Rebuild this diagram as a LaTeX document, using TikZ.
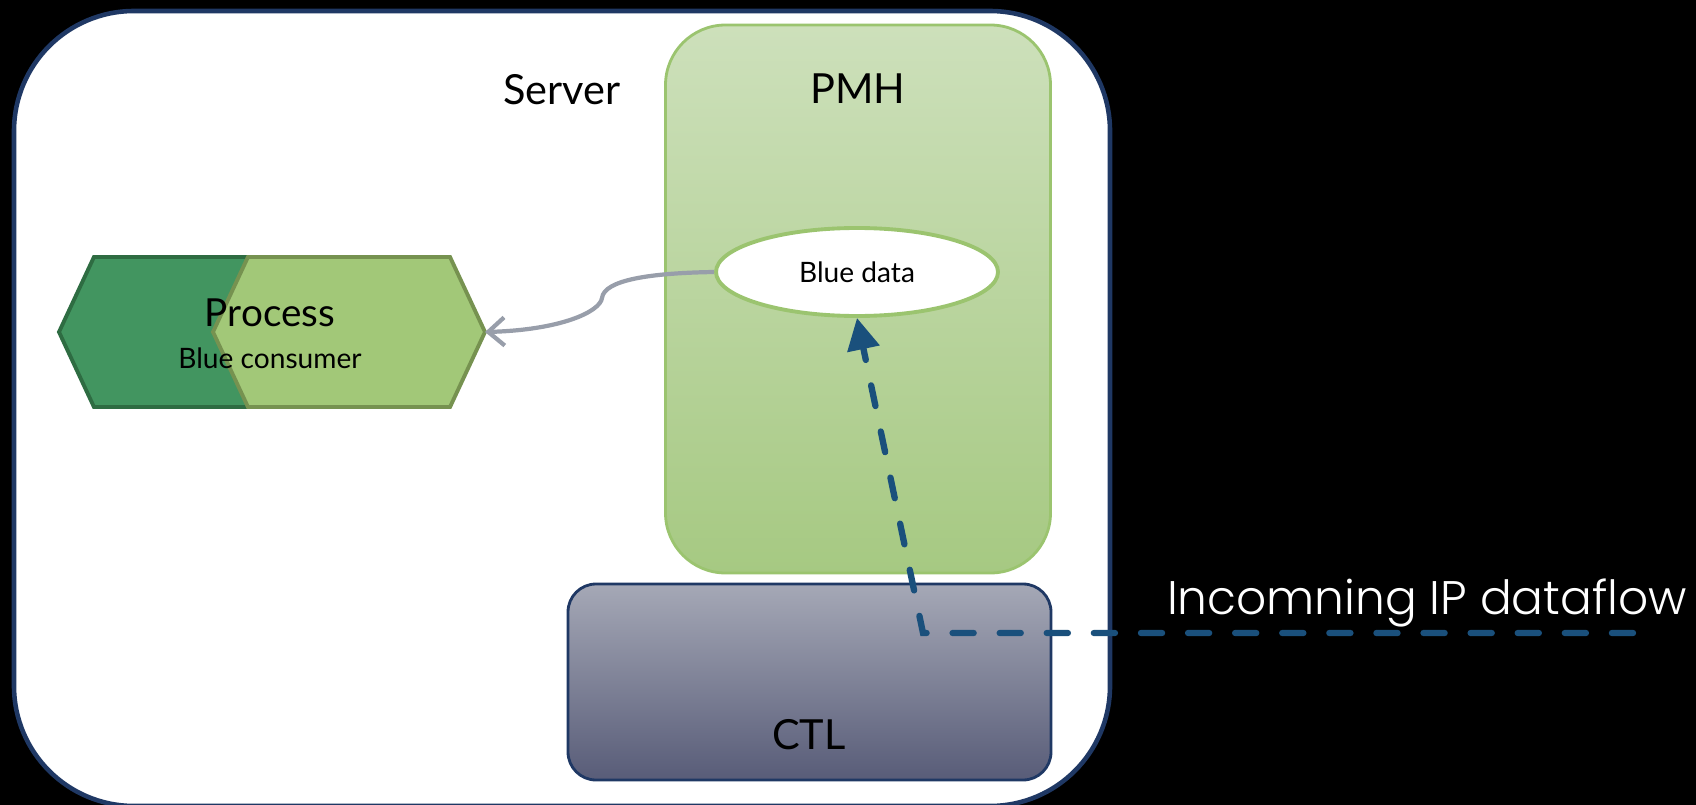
\documentclass[tikz,border=0pt]{standalone}
\usepackage{fontspec}
\setmainfont{Lato}
\newfontfamily\gothicfont{Poppins}[UprightFont={* Light}]
\usetikzlibrary{
    shapes.geometric,
    shapes.symbols,
    arrows.meta,
    positioning
}
\definecolor{servernavy}{RGB}{31,56,100}
\definecolor{pmhtop}{RGB}{205,224,187}
\definecolor{pmhbot}{RGB}{166,201,130}
\definecolor{pmhedge}{RGB}{155,196,111}
\definecolor{ctltop}{RGB}{165,168,182}
\definecolor{ctlbot}{RGB}{88,92,120}
\definecolor{procdark}{RGB}{66,149,96}
\definecolor{procdarkedge}{RGB}{46,108,66}
\definecolor{proclight}{RGB}{162,200,120}
\definecolor{proclightedge}{RGB}{118,146,80}
\definecolor{flowblue}{RGB}{26,80,124}
\definecolor{linkgrey}{RGB}{152,158,170}

\begin{document}
\begin{tikzpicture}[
        x=0.1mm, y=-0.1mm,
        box/.style={draw, rounded corners=#1, inner sep=0pt, outer sep=0pt},
        hexa/.style={signal, signal to=east and west, signal pointer angle=130,
            minimum width=27.2mm, minimum height=15mm, inner sep=0pt, outer sep=0pt, line width=1.1pt},
        lbl/.style={font=\fontsize{11.8}{14}\selectfont},
        small/.style={font=\fontsize{8}{10}\selectfont},
        flow/.style={draw=flowblue, line width=1.8pt, line cap=round, dash pattern=on 6pt off 7.4pt,
            -{Triangle[length=9pt, width=9pt]}},
        link/.style={draw=linkgrey, line width=1.2pt, -{Straight Barb[length=4.6pt, width=8pt]}}
    ]
        \useasboundingbox (0,0) rectangle (1696,805);
        \fill[black] (0,0) rectangle (1696,805);

        % Server
        \node[box=12mm, draw=servernavy, line width=1.3pt, fill=white,
            minimum width=109.6mm, minimum height=79.5mm] (server) at (562,408.5) {};
        \node[lbl] (servertxt) at (562,90) {Server};

        % PMH
        \node[box=6mm, draw=pmhedge, line width=0.8pt, top color=pmhtop, bottom color=pmhbot,
            minimum width=38.5mm, minimum height=54.8mm] (pmh) at (858,299) {};
        \node[lbl] (pmhtxt) at (858,89) {PMH};

        % CTL
        \node[box=2.8mm, draw=servernavy, line width=0.8pt, top color=ctltop, bottom color=ctlbot,
            minimum width=48.3mm, minimum height=19.6mm] (ctl) at (809.5,682) {};
        \node[lbl] (ctltxt) at (809,735) {CTL};

        % Blue data
        \node[ellipse, draw=pmhedge, line width=1.1pt, fill=white, small,
            minimum width=28.2mm, minimum height=8.8mm] (bd) at (857,272) {Blue data};

        % Process
        \node[hexa, draw=procdarkedge, fill=procdark] (procback) at (195,332) {};
        \node[hexa, draw=proclightedge, fill=proclight] (proc) at (349,332) {};
        \node[font=\fontsize{11}{13}\selectfont] (proctxt) at (270,313) {Process};
        \node[small] (procsub) at (270,358) {Blue consumer};

        % Arrows
        \draw[link] (bd.west) .. controls (650,273) and (604,280) .. (602,298)
            .. controls (600,312) and (560,330) .. (proc.east);

        \coordinate (feed) at (1633,633);
        \coordinate (turn) at (923,633);
        \draw[flow] (feed) -- (turn) -- (bd.south);

        \node[text=white, font=\gothicfont\fontsize{13.4}{16}\selectfont] (feedtxt) at (1427,603) {Incomning IP dataflow};
    \end{tikzpicture}
\end{document}
